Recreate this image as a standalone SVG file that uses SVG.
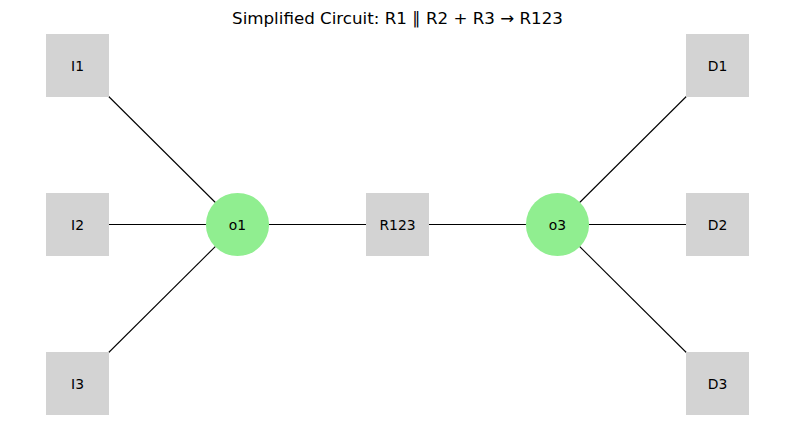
<svg xmlns="http://www.w3.org/2000/svg" width="794" height="427" viewBox="0 0 794 427">
<style>
.sq{fill:#d3d3d3}
.ci{fill:#90ee90}
.lb{font-family:"DejaVu Sans",sans-serif;font-size:13.9px;fill:#000;text-anchor:middle;dominant-baseline:central}
.e line{stroke:#000;stroke-width:1.1}
</style>
<rect width="794" height="427" fill="#fff"/>
<text x="397.5" y="24" style="font-family:'DejaVu Sans',sans-serif;font-size:16.7px;text-anchor:middle">Simplified Circuit: R1 ∥ R2 + R3 → R123</text>
<g id="edges" class="e">
<line x1="77.5" y1="65.5" x2="237.5" y2="224.5"/>
<line x1="77.5" y1="224.5" x2="237.5" y2="224.5"/>
<line x1="77.5" y1="383.5" x2="237.5" y2="224.5"/>
<line x1="237.5" y1="224.5" x2="397.5" y2="224.5"/>
<line x1="397.5" y1="224.5" x2="557.5" y2="224.5"/>
<line x1="557.5" y1="224.5" x2="717.5" y2="65.5"/>
<line x1="557.5" y1="224.5" x2="717.5" y2="224.5"/>
<line x1="557.5" y1="224.5" x2="717.5" y2="383.5"/>
</g>
<g id="I1"><rect class="sq" x="46" y="34" width="63" height="63"/><text class="lb" x="77.5" y="65.5">I1</text></g>
<g id="I2"><rect class="sq" x="46" y="193" width="63" height="63"/><text class="lb" x="77.5" y="224.5">I2</text></g>
<g id="I3"><rect class="sq" x="46" y="352" width="63" height="63"/><text class="lb" x="77.5" y="383.5">I3</text></g>
<g id="o1"><circle class="ci" cx="237.5" cy="224.5" r="31.6"/><text class="lb" x="237.5" y="224.5">o1</text></g>
<g id="R123"><rect class="sq" x="366" y="193" width="63" height="63"/><text class="lb" x="397.5" y="224.5">R123</text></g>
<g id="o3"><circle class="ci" cx="557.5" cy="224.5" r="31.6"/><text class="lb" x="557.5" y="224.5">o3</text></g>
<g id="D1"><rect class="sq" x="686" y="34" width="63" height="63"/><text class="lb" x="717.5" y="65.5">D1</text></g>
<g id="D2"><rect class="sq" x="686" y="193" width="63" height="63"/><text class="lb" x="717.5" y="224.5">D2</text></g>
<g id="D3"><rect class="sq" x="686" y="352" width="63" height="63"/><text class="lb" x="717.5" y="383.5">D3</text></g>
</svg>
